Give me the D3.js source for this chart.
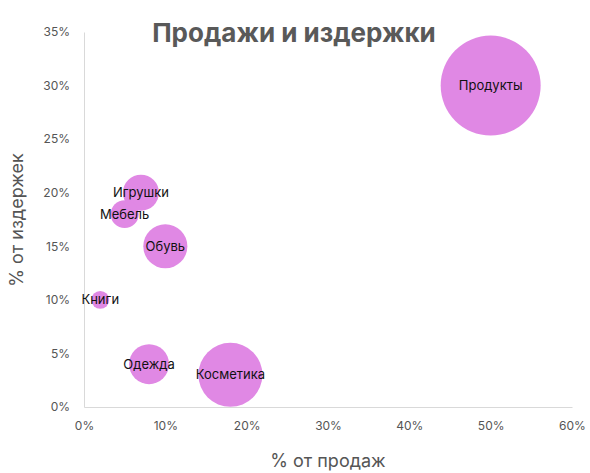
<!DOCTYPE html><html><head><meta charset="utf-8"><script src="https://cdn.jsdelivr.net/npm/d3@7"></script>
<style>body{margin:0;background:#fff}</style></head><body><svg id="c" width="590" height="473"></svg>
<script>
const categories=["Продукты","Игрушки","Мебель","Обувь","Книги","Одежда","Косметика"];
const sales=[50,7,5,10,2,8,18];
const costs=[30,20,18,15,10,4,3];
const sizes=[50,6.5,3.9,9.7,1.6,8,20.5];
const xTicks=[0,10,20,30,40,50,60];
const yTicks=[0,5,10,15,20,25,30,35];
const svg=d3.select("#c");
const x=d3.scaleLinear().domain([0,60]).range([84,572]);
const y=d3.scaleLinear().domain([0,35]).range([407,32]);
const r=d3.scaleSqrt().domain([0,50]).range([0,50]);
const font="Inter, 'Open Sans', sans-serif";
const xa=svg.append("g").attr("transform","translate(0,407)").call(d3.axisBottom(x).tickValues(xTicks).tickFormat(d=>d+"%").tickSize(0).tickPadding(14));
const ya=svg.append("g").attr("transform","translate(84,0)").call(d3.axisLeft(y).tickValues(yTicks).tickFormat(d=>d+"%").tickSize(0).tickPadding(14));
[xa,ya].forEach(a=>{a.select(".domain").attr("stroke","#d9d9d9");a.selectAll("text").attr("font-family",font).attr("font-size",12).attr("fill","#555");});
const data=categories.map((c,i)=>({c,x:sales[i],y:costs[i],s:sizes[i]}));
svg.append("g").selectAll("circle").data(data).join("circle").attr("cx",d=>x(d.x)).attr("cy",d=>y(d.y)).attr("r",d=>r(d.s)).attr("fill","#e088e4");
svg.append("g").selectAll("text").data(data).join("text").attr("x",d=>x(d.x)).attr("y",d=>y(d.y)).attr("dy","0.35em").attr("text-anchor","middle").attr("font-family",font).attr("font-size",13).attr("fill","#111").text(d=>d.c);
svg.append("text").attr("x",294).attr("y",42).attr("text-anchor","middle").attr("font-family",font).attr("font-weight","bold").attr("font-size",26).attr("fill","#595959").text("Продажи и издержки");
svg.append("text").attr("x",328).attr("y",467).attr("text-anchor","middle").attr("font-family",font).attr("font-size",18).attr("fill","#555").text("% от продаж");
svg.append("text").attr("transform","translate(23,220) rotate(-90)").attr("text-anchor","middle").attr("font-family",font).attr("font-size",18).attr("fill","#555").text("% от издержек");
</script></body></html>
